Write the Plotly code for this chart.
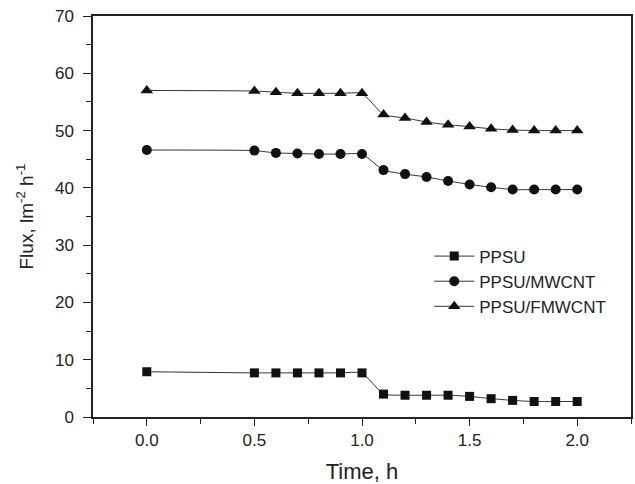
import plotly.graph_objects as go

time_h = [0.0, 0.5, 0.6, 0.7, 0.8, 0.9, 1.0, 1.1, 1.2, 1.3, 1.4, 1.5, 1.6, 1.7, 1.8, 1.9, 2.0]
ppsu = [7.9, 7.7, 7.7, 7.7, 7.7, 7.7, 7.7, 4.0, 3.8, 3.8, 3.8, 3.6, 3.2, 2.9, 2.7, 2.7, 2.7]
ppsu_mwcnt = [46.6, 46.5, 46.1, 46.0, 45.9, 45.9, 45.9, 43.1, 42.4, 41.9, 41.2, 40.6, 40.1, 39.7, 39.7, 39.7, 39.7]
ppsu_fmwcnt = [57.0, 56.9, 56.7, 56.5, 56.5, 56.5, 56.5, 52.8, 52.2, 51.5, 51.0, 50.7, 50.3, 50.1, 50.0, 50.0, 50.0]

series = [
    ("PPSU", ppsu, "square", 9),
    ("PPSU/MWCNT", ppsu_mwcnt, "circle", 10),
    ("PPSU/FMWCNT", ppsu_fmwcnt, "triangle-up", 11),
]

FONT = "Arial, Liberation Sans, sans-serif"

fig = go.Figure()
for name, vals, sym, sz in series:
    fig.add_trace(go.Scatter(
        x=time_h, y=vals, name=name, mode="lines+markers",
        line=dict(color="#333333", width=1, shape="spline", smoothing=0.5),
        marker=dict(symbol=sym, size=sz, color="#111111"),
    ))

fig.update_layout(
    width=635, height=484,
    margin=dict(l=93, r=2, t=16, b=67),
    paper_bgcolor="white", plot_bgcolor="white",
    font=dict(family=FONT, size=17, color="#222222"),
    showlegend=True,
    legend=dict(x=0.625, y=0.445, xanchor="left", yanchor="top",
                bgcolor="rgba(0,0,0,0)", font=dict(size=17, family=FONT),
                itemwidth=40, tracegroupgap=0),
    xaxis=dict(
        range=[-0.25, 2.25], tick0=0, dtick=0.5, tickformat=".1f",
        ticks="outside", ticklen=7, tickwidth=1.2, tickcolor="#222",
        showline=True, linecolor="#222", linewidth=1.5, mirror=True,
        showgrid=False, zeroline=False,
        minor=dict(dtick=0.25, tick0=-0.25, ticks="outside", ticklen=5, tickcolor="#222", tickwidth=1.2),
        title=dict(text="Time, h", font=dict(size=22, family=FONT), standoff=14),
    ),
    yaxis=dict(
        range=[0, 70], tick0=0, dtick=10,
        ticks="outside", ticklen=8, tickwidth=1.2, tickcolor="#222",
        ticklabelstandoff=6,
        showline=True, linecolor="#222", linewidth=1.5, mirror=True,
        showgrid=False, zeroline=False,
        minor=dict(dtick=5, ticks="outside", ticklen=5, tickcolor="#222", tickwidth=1.2),
        title=dict(text="Flux, lm<sup>-2</sup> h<sup>-1</sup>", font=dict(size=19, family=FONT), standoff=16),
    ),
)

fig.write_html("out.html", config={"displayModeBar": False},
               post_script="document.body.style.margin='0';")
